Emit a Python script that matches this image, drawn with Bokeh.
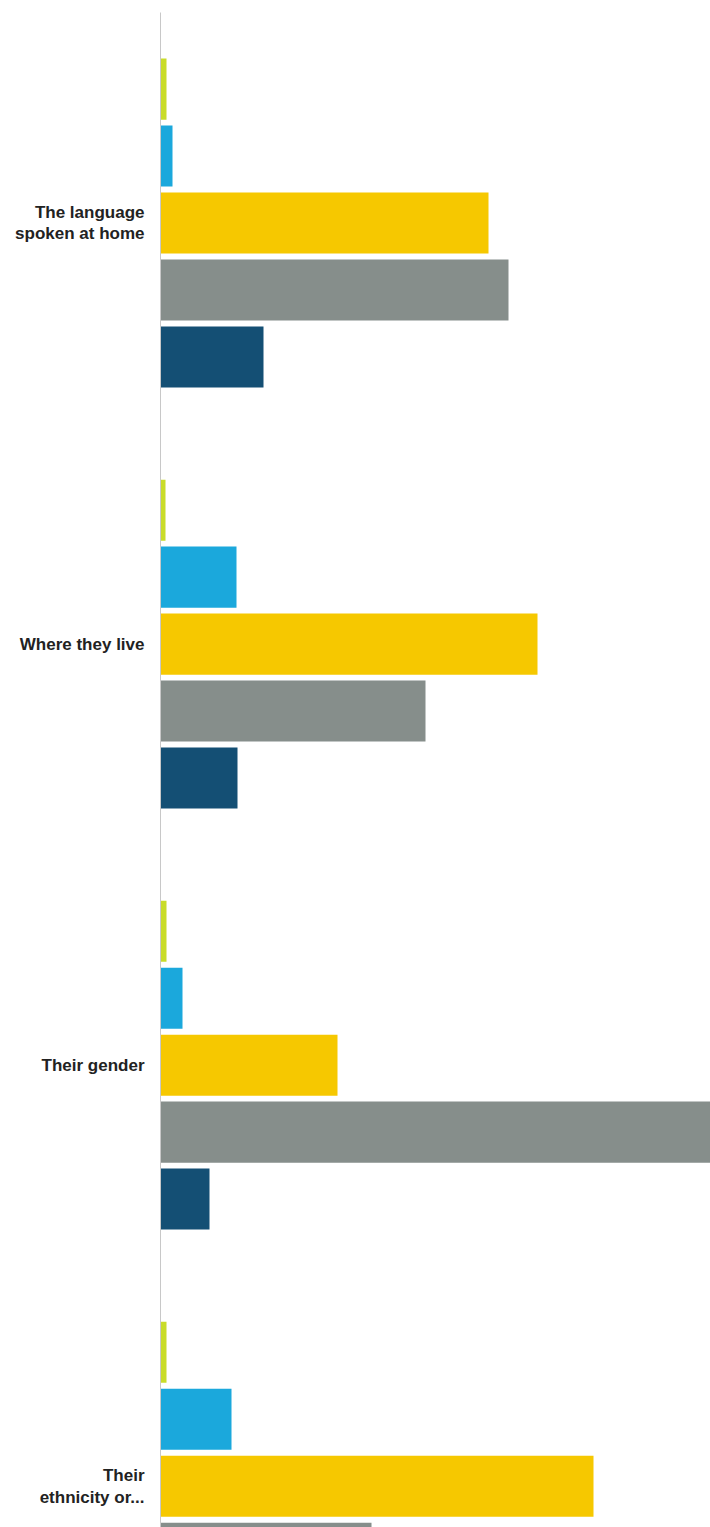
from bokeh.plotting import figure
from bokeh.embed import file_html
from bokeh.resources import INLINE
from bokeh.models import ColumnDataSource, FixedTicker, Range1d

categories = ["The language\nspoken at home", "Where they live", "Their gender", "Their\nethnicity or..."]
series_names = ["S1", "S2", "S3", "S4", "S5"]
colors = ["#c9dc2a", "#1ba8dc", "#f6c800", "#868e8b", "#144f74"]
values = {
    "S1": [0.6, 0.5, 0.6, 0.6],
    "S2": [1.2, 7.6, 2.2, 7.1],
    "S3": [32.8, 37.7, 17.7, 43.3],
    "S4": [34.8, 26.5, 58.0, 21.1],
    "S5": [10.3, 7.7, 4.9, 8.0],
}

n = len(categories)
centers = [i + 0.5 for i in range(n)]
pitch = 0.159
bar_h = 0.145

p = figure(width=710, height=1527, output_backend="svg", toolbar_location=None,
           x_range=Range1d(0, 55), y_range=Range1d(3.598, 0),
           min_border_left=160, min_border_right=0, min_border_top=12, min_border_bottom=0)

for k, s in enumerate(series_names):
    off = (k - 2) * pitch
    src = ColumnDataSource(dict(y=[c + off for c in centers], right=values[s]))
    p.hbar(y="y", left=0, right="right", height=bar_h, source=src,
           fill_color=colors[k], line_color=None)

p.xaxis.visible = False
p.xgrid.visible = False
p.ygrid.visible = False
p.outline_line_color = None
p.yaxis.ticker = FixedTicker(ticks=centers)
p.yaxis.major_label_overrides = {c: lab for c, lab in zip(centers, categories)}
p.yaxis.major_tick_line_color = None
p.yaxis.minor_tick_line_color = None
p.yaxis.axis_line_color = "#c8c8c8"
p.yaxis.axis_line_width = 1
p.yaxis.major_label_standoff = 10
p.yaxis.major_label_text_font = "Liberation Sans"
p.yaxis.major_label_text_font_style = "bold"
p.yaxis.major_label_text_font_size = "17px"
p.yaxis.major_label_text_color = "#222222"
p.yaxis.major_label_text_line_height = 1.15

open("out.html", "w").write(file_html(p, INLINE))
